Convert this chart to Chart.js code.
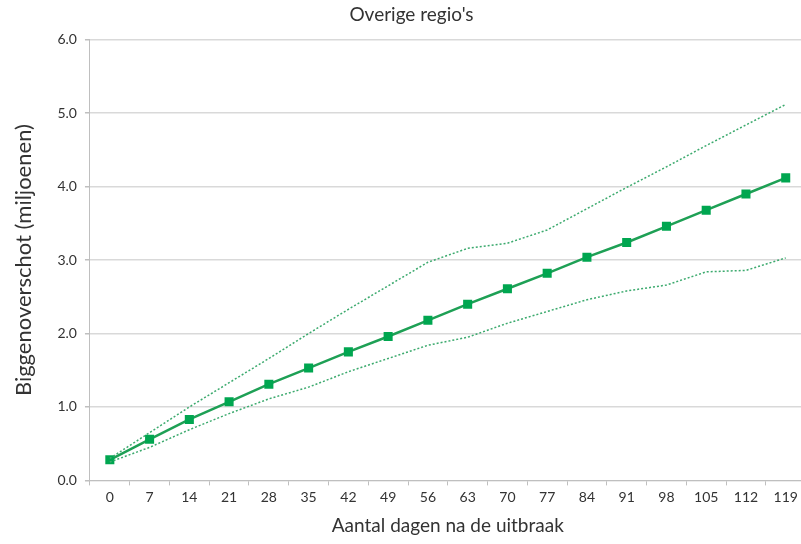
<!DOCTYPE html>
<html>
<head>
<meta charset="utf-8">
<script src="https://cdn.jsdelivr.net/npm/chart.js@4"></script>
<style>
  html, body { margin: 0; padding: 0; background: #fff; overflow: hidden; }
  #wrap { width: 812px; height: 544px; }
</style>
</head>
<body>
<div id="wrap"><canvas id="lineChart" width="812" height="544"></canvas></div>
<script>
// dagen na de uitbraak
const days = ["0", "7", "14", "21", "28", "35", "42", "49", "56", "63", "70", "77", "84", "91", "98", "105", "112", "119"];

// biggenoverschot (miljoenen)
const mainValues = [0.28, 0.56, 0.83, 1.07, 1.31, 1.53, 1.75, 1.96, 2.18, 2.40, 2.61, 2.82, 3.04, 3.24, 3.46, 3.68, 3.90, 4.12];
const upperValues = [0.30, 0.65, 1.00, 1.33, 1.66, 2.00, 2.33, 2.65, 2.97, 3.16, 3.23, 3.41, 3.70, 3.99, 4.27, 4.56, 4.84, 5.12];
const lowerValues = [0.25, 0.45, 0.69, 0.91, 1.11, 1.27, 1.48, 1.66, 1.84, 1.95, 2.14, 2.30, 2.46, 2.58, 2.66, 2.84, 2.86, 3.03];

const yTicks = [0, 1, 2, 3, 4, 5, 6];

const fontFamily = "Lato, 'Open Sans', sans-serif";
const textColor = '#333';

const ctx = document.getElementById("lineChart");

new Chart(ctx, {
    type: 'line',
    data: {
        labels: days,
        datasets: [{
            label: "Bovengrens",
            data: upperValues,
            borderColor: 'rgb(60, 170, 110)',
            borderWidth: 1.5,
            borderDash: [2, 2],
            pointRadius: 0,
            tension: 0
        }, {
            label: "Ondergrens",
            data: lowerValues,
            borderColor: 'rgb(60, 170, 110)',
            borderWidth: 1.5,
            borderDash: [2, 2],
            pointRadius: 0,
            tension: 0
        }, {
            label: "Biggenoverschot",
            data: mainValues,
            borderColor: 'rgb(30, 160, 85)',
            backgroundColor: 'rgb(0, 166, 80)',
            borderWidth: 2.5,
            pointStyle: 'rect',
            pointRadius: 6.4,
            pointBorderWidth: 0,
            tension: 0
        }]
    },
    options: {
        responsive: false,
        animation: false,
        layout: { padding: { left: 11, right: 0, top: 0, bottom: 7 } },
        plugins: {
            legend: { display: false },
            tooltip: { enabled: false },
            title: {
                display: true,
                text: "Overige regio's",
                color: textColor,
                font: { family: fontFamily, size: 19, weight: 'normal' },
                padding: { top: 3, bottom: 14 }
            }
        },
        scales: {
            x: {
                offset: true,
                grid: {
                    offset: true,
                    drawOnChartArea: false,
                    color: '#bfbfbf',
                    tickLength: 5
                },
                border: { color: '#bfbfbf' },
                ticks: {
                    color: textColor,
                    font: { family: fontFamily, size: 14 },
                    maxRotation: 0,
                    autoSkip: false,
                    padding: 4
                },
                title: {
                    display: true,
                    text: "Aantal dagen na de uitbraak",
                    color: textColor,
                    font: { family: fontFamily, size: 19 },
                    padding: { top: 4, bottom: 0 }
                }
            },
            y: {
                min: 0,
                max: 6,
                afterBuildTicks: (axis) => {
                    axis.ticks = yTicks.map(v => ({ value: v }));
                },
                grid: {
                    color: '#d9d9d9',
                    lineWidth: 1.5,
                    tickLength: 5,
                    tickColor: '#bfbfbf'
                },
                border: { color: '#bfbfbf' },
                ticks: {
                    color: textColor,
                    font: { family: fontFamily, size: 14 },
                    padding: 8,
                    callback: (v) => Number(v).toFixed(1)
                },
                title: {
                    display: true,
                    text: "Biggenoverschot (miljoenen)",
                    color: textColor,
                    font: { family: fontFamily, size: 22 },
                    padding: { top: 0, bottom: 12 }
                }
            }
        }
    }
});
</script>
</body>
</html>
